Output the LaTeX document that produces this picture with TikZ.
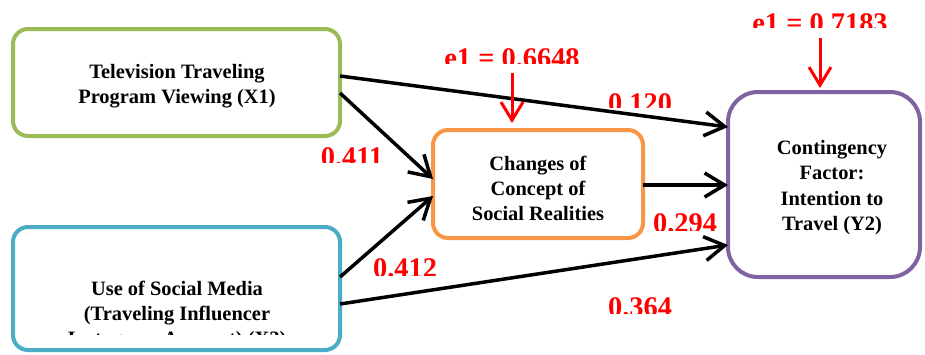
\documentclass[tikz,border=0pt]{standalone}
\usepackage{fontspec}
\setmainfont{Liberation Serif}
\usetikzlibrary{arrows.meta}
\definecolor{cgreen}{HTML}{9BBB59}
\definecolor{cblue}{HTML}{4BACC6}
\definecolor{corange}{HTML}{F79646}
\definecolor{cpurple}{HTML}{8064A2}
\definecolor{cred}{HTML}{FF0000}
\tikzset{
  boxshape/.style={line width=4bp, fill=white, rounded corners=#1},
  boxtext/.style={align=center, font=\fontsize{20.5}{25}\selectfont\bfseries, inner sep=0pt},
  coef/.style={text=cred, font=\fontsize{28.5}{30}\selectfont\bfseries, inner sep=0pt, anchor=base},
  path/.style={line width=3.5bp, -{Straight Barb[length=20bp,width=24bp,line width=3.5bp]}},
  errarrow/.style={line width=3bp, cred, -{Straight Barb[length=18bp,width=22bp,line width=3bp]}},
}
\begin{document}
\begin{tikzpicture}[x=1bp,y=-1bp]
\useasboundingbox (0,0) rectangle (925,354);
% boxes
\draw[boxshape=15bp, draw=cgreen] (13,29) rectangle (340,136);
\node (x1) at (176.5,82.5) [minimum width=327bp, minimum height=107bp, inner sep=0pt] {};
\draw[boxshape=15bp, draw=cblue] (13,227) rectangle (340,350);
\node (x2) at (176.5,288.5) [minimum width=327bp, minimum height=123bp, inner sep=0pt] {};
\draw[boxshape=15bp, draw=corange] (433,130) rectangle (643,238);
\node (m) at (538,184) [minimum width=210bp, minimum height=108bp, inner sep=0pt] {};
\draw[boxshape=30bp, draw=cpurple] (728,92) rectangle (920,277);
\node (y) at (824,184.5) [minimum width=192bp, minimum height=185bp, inner sep=0pt] {};
% box texts
\node[boxtext] (tx1) at (177,86) {Television Traveling\\Program Viewing (X1)};
\begin{scope}
\clip (13,227) rectangle (340,334);
\node[boxtext] (tx2) at (177,315.5) {Use of Social Media\\(Traveling Influencer\\Instagram Account) (X2)};
\end{scope}
\node[boxtext] (tm) at (538,188) {Changes of\\Concept of\\Social Realities};
\node[boxtext, font=\fontsize{20.5}{25.3}\selectfont\bfseries] (ty) at (832,187.5) {Contingency\\Factor:\\Intention to\\Travel (Y2)};
% coordinates for connector ends
\coordinate (x1a) at (340,76);
\coordinate (x1b) at (340,93);
\coordinate (x2a) at (340,277);
\coordinate (x2b) at (340,304);
\coordinate (ma) at (433,179);
\coordinate (mb) at (433,196);
\coordinate (mo) at (643,185);
\coordinate (ya) at (728,127);
\coordinate (yb) at (728,185);
\coordinate (yc) at (728,245);
\coordinate (e1s) at (512,73);
\coordinate (e1t) at (512,123);
\coordinate (e2s) at (820,38);
\coordinate (e2t) at (820,88);
% connectors
\draw[path] (x1a) -- (ya);
\draw[path] (x1b) -- (ma);
\draw[path] (x2a) -- (mb);
\draw[path] (x2b) -- (yc);
\draw[path] (mo) -- (yb);
\draw[errarrow] (e1s) -- (e1t);
\draw[errarrow] (e2s) -- (e2t);
% coefficients (clipped as in the reference)
\begin{scope}\clip (400,0) rectangle (620,63);
\node[coef] (l1) at (512,67) {e1 = 0.6648};\end{scope}
\begin{scope}\clip (700,0) rectangle (925,27);
\node[coef] (l2) at (820,32) {e1 = 0.7183};\end{scope}
\begin{scope}\clip (590,80) rectangle (690,107);
\node[coef] (l3) at (640,112) {0.120};\end{scope}
\begin{scope}\clip (300,135) rectangle (400,162);
\node[coef] (l4) at (352,166) {0.411};\end{scope}
\begin{scope}\clip (360,245) rectangle (450,275);
\node[coef] (l5) at (405,277) {0.412};\end{scope}
\begin{scope}\clip (640,200) rectangle (727,230);
\node[coef] (l6) at (685,232) {0.294};\end{scope}
\begin{scope}\clip (590,285) rectangle (690,313);
\node[coef] (l7) at (640,316) {0.364};\end{scope}
\end{tikzpicture}
\end{document}
